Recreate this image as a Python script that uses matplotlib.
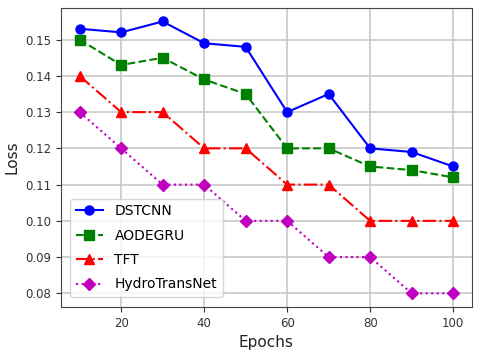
import matplotlib.pyplot as plt

epochs = [10, 20, 30, 40, 50, 60, 70, 80, 90, 100]
dstcnn = [0.153, 0.152, 0.155, 0.149, 0.148, 0.130, 0.135, 0.120, 0.119, 0.115]
aodegru = [0.150, 0.143, 0.145, 0.139, 0.135, 0.120, 0.120, 0.115, 0.114, 0.112]
tft = [0.14, 0.13, 0.13, 0.12, 0.12, 0.11, 0.11, 0.10, 0.10, 0.10]
hydro = [0.13, 0.12, 0.11, 0.11, 0.10, 0.10, 0.09, 0.09, 0.08, 0.08]

fig = plt.figure(figsize=(4.8, 3.59), dpi=100)
ax = fig.add_axes([0.127, 0.145, 0.856, 0.833])

ax.plot(epochs, dstcnn, 'b-o', label='DSTCNN', markersize=6.5, linewidth=1.5)
ax.plot(epochs, aodegru, 'g--s', label='AODEGRU', markersize=6.5, linewidth=1.5)
ax.plot(epochs, tft, 'r-.^', label='TFT', markersize=6.5, linewidth=1.5)
ax.plot(epochs, hydro, 'm:D', label='HydroTransNet', markersize=6.5, linewidth=1.5)

ax.set_xlabel('Epochs', fontsize=11, color='#222222')
ax.set_ylabel('Loss', fontsize=11, color='#222222')
ax.tick_params(labelsize=8.5, colors='#333333')
for s in ax.spines.values():
    s.set_color('#444444')
ax.grid(True, color='#c8c8c8', linewidth=1.2)
ax.legend(loc='lower left', fontsize=10, labelspacing=0.75,
          bbox_to_anchor=(0.005, 0.01))

plt.savefig('out.png', dpi=100)
